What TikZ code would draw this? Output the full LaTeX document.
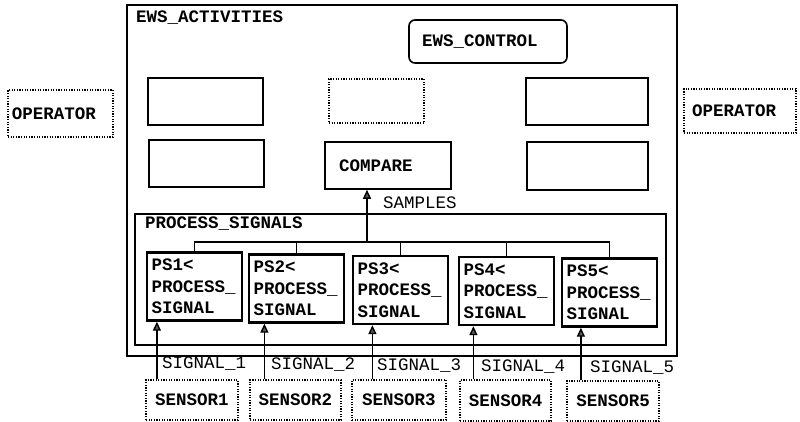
\documentclass[tikz,border=0pt]{standalone}
\usepackage{fontspec}
\setmainfont{Liberation Mono}
\usetikzlibrary{arrows.meta,calc}
\begin{document}
\begin{tikzpicture}[x=1pt,y=-1pt,
  every node/.style={font=\fontsize{17.5}{21.5}\selectfont},
  bfont/.style={font=\fontsize{17.5}{21.5}\selectfont\bfseries},
  box/.style={draw, line width=1.6pt, inner sep=0pt},
  dotbox/.style={draw, line width=1.2pt, dash pattern=on 1.2pt off 1.4pt, inner sep=0pt, bfont},
  psbox/.style={draw, line width=2.4pt, align=left, text width=86pt, inner xsep=4.5pt, inner ysep=2pt, minimum height=68pt, bfont},
  lbl/.style={anchor=base west, inner sep=0pt},
  arr/.style={line width=1.4pt, -{Triangle[width=8pt,length=9pt,fill=black!65]}},
  wire/.style={line width=1.6pt}
]
\useasboundingbox (0,0) rectangle (800,422);

% outer activity
\node[box, minimum width=550pt, minimum height=351pt] (act) at (402,180.5) {};
\node[lbl, bfont] (actl) at (136,23) {EWS\_ACTIVITIES};

\node[box, rounded corners=6pt, minimum width=158pt, minimum height=43pt,
      text width=132pt, inner xsep=13pt, align=left, bfont] (ctl) at (488,41.5) {EWS\_CONTROL};

% row 1
\node[box, minimum width=115pt, minimum height=47pt] (a1) at (205.5,101.5) {};
\node[dotbox, minimum width=95pt, minimum height=44pt] (a2) at (376.5,101) {};
\node[box, minimum width=122pt, minimum height=47pt] (a3) at (587,101.5) {};
% row 2
\node[box, minimum width=115pt, minimum height=47pt] (b1) at (206.5,163.5) {};
\node[box, minimum height=47pt, text width=98pt, inner xsep=14pt, align=left, bfont] (cmp) at (388,165.5) {COMPARE};
\node[box, minimum width=121pt, minimum height=48pt] (b3) at (587.5,166) {};

% process signals
\node[box, minimum width=531pt, minimum height=131pt] (ps) at (400.5,279.5) {};
\node[lbl, bfont] (psl) at (145,229) {PROCESS\_SIGNALS};

\node[psbox] (p1) at (194.5,286.5) {PS1<\\PROCESS\_\\SIGNAL};
\node[psbox] (p2) at (296.5,288.5) {PS2<\\PROCESS\_\\SIGNAL};
\node[psbox] (p3) at (400.5,290) {PS3<\\PROCESS\_\\SIGNAL};
\node[psbox] (p4) at (506.5,291) {PS4<\\PROCESS\_\\SIGNAL};
\node[psbox] (p5) at (609.5,292.5) {PS5<\\PROCESS\_\\SIGNAL};

\coordinate (bus) at (0,242);
\draw[wire] (p1.north) |- (p5.north |- bus) -- (p5.north);
\draw[wire] (p2.north) -- (p2.north |- bus);
\draw[wire] (p3.north) -- (p3.north |- bus);
\draw[wire] (p4.north) -- (p4.north |- bus);

\coordinate (tap) at (367,242);
\draw[arr] (tap) -- (tap |- cmp.south);
\node[lbl] (smp) at (383,208) {SAMPLES};

% sensors
\node[dotbox, minimum width=92pt, minimum height=40pt] (s1) at (192,400) {SENSOR1};
\node[dotbox, minimum width=91pt, minimum height=40pt] (s2) at (295.5,400) {SENSOR2};
\node[dotbox, minimum width=94pt, minimum height=40pt] (s3) at (399,400) {SENSOR3};
\node[dotbox, minimum width=91pt, minimum height=41pt] (s4) at (505.5,400.5) {SENSOR4};
\node[dotbox, minimum width=92pt, minimum height=40pt] (s5) at (613,401) {SENSOR5};

\path ([xshift=11.5pt]s1.north west) coordinate (q1)
      ([xshift=15pt]s2.north west) coordinate (q2)
      ([xshift=21pt]s3.north west) coordinate (q3)
      ([xshift=14pt]s4.north west) coordinate (q4)
      ([xshift=14.5pt]s5.north west) coordinate (q5);
\draw[arr] (q1) -- (q1 |- p1.south);
\draw[arr] (q2) -- (q2 |- p2.south);
\draw[arr] (q3) -- (q3 |- p3.south);
\draw[arr] (q4) -- (q4 |- p4.south);
\draw[arr] (q5) -- (q5 |- p5.south);

\node[lbl] (g1) at (162,368) {SIGNAL\_1};
\node[lbl] (g2) at (271,369) {SIGNAL\_2};
\node[lbl] (g3) at (377,370) {SIGNAL\_3};
\node[lbl] (g4) at (481,371) {SIGNAL\_4};
\node[lbl] (g5) at (590,372) {SIGNAL\_5};

% operators
\node[dotbox, minimum width=105pt, minimum height=47pt, text width=97pt, inner xsep=4pt, align=left] (op1) at (60.5,113.5) {OPERATOR};
\node[dotbox, minimum width=112pt, minimum height=44pt, text width=96pt, inner xsep=8pt, align=left] (op2) at (740,111) {OPERATOR};
\end{tikzpicture}
\end{document}
